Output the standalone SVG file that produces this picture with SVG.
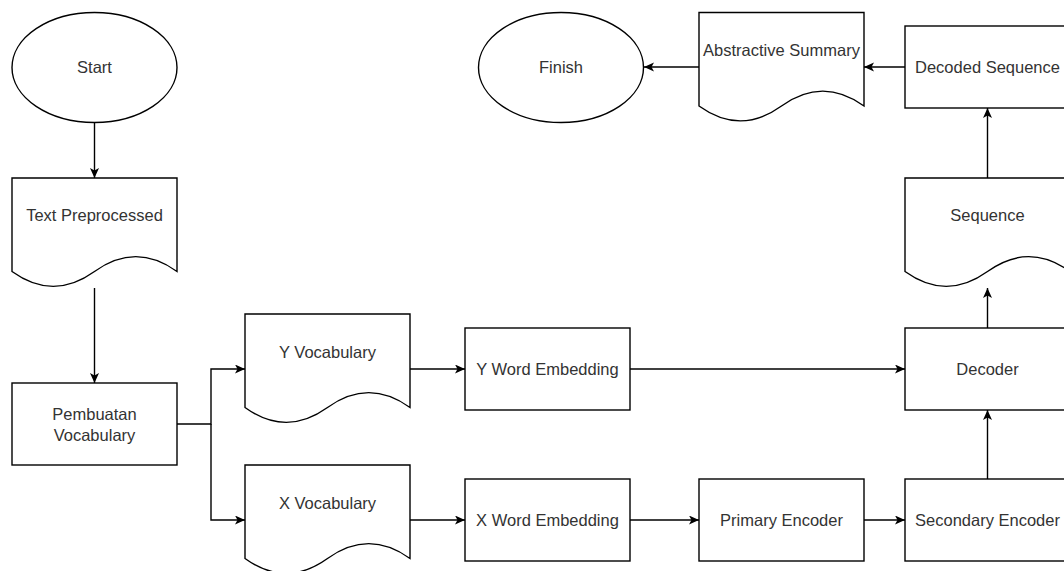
<svg xmlns="http://www.w3.org/2000/svg" width="1064" height="571" viewBox="0 0 1064 571">
<defs>
<marker id="arr" markerUnits="userSpaceOnUse" markerWidth="11" markerHeight="10" refX="10" refY="4.5" orient="auto">
<path d="M0,0 L10,4.5 L0,9 L2.5,4.5 Z" fill="#000"/>
</marker>
<style>
.shape{fill:#fff;stroke:#000;stroke-width:1.4}
.conn{fill:none;stroke:#000;stroke-width:1.4;marker-end:url(#arr)}
.lbl{font-family:"Liberation Sans",Arial,Helvetica,sans-serif;font-size:16.5px;fill:#333;text-anchor:middle}
</style>
</defs>
<rect width="1064" height="571" fill="#fff"/>
<g id="connectors">
<path class="conn" d="M94.5,122.5 V178"/>
<path class="conn" d="M94.5,288 V383"/>
<path class="conn" d="M177,424 H211 V369 H245"/>
<path class="conn" d="M211,424 V520 H245"/>
<path class="conn" d="M410,369 H465"/>
<path class="conn" d="M410,520 H465"/>
<path class="conn" d="M630,369 H905"/>
<path class="conn" d="M630,520 H699"/>
<path class="conn" d="M864,520 H905"/>
<path class="conn" d="M987.5,479 V410"/>
<path class="conn" d="M987.5,328 V288"/>
<path class="conn" d="M987.5,178 V108"/>
<path class="conn" d="M905,67 H864"/>
<path class="conn" d="M699,67 H644"/>
</g>
<g id="start">
<ellipse class="shape" cx="94.5" cy="67.5" rx="82.5" ry="55"/>
<text class="lbl" x="94.5" y="73">Start</text>
</g>
<g id="text-preprocessed">
<path class="shape" d="M12,178 H177 V271.5 Q135.75,241.8 94.5,271.5 Q53.25,301.2 12,271.5 Z"/>
<text class="lbl" x="94.5" y="221">Text Preprocessed</text>
</g>
<g id="pembuatan-vocabulary">
<rect class="shape" x="12" y="383" width="165" height="82"/>
<text class="lbl" x="94.5" y="420">Pembuatan</text>
<text class="lbl" x="94.5" y="441">Vocabulary</text>
</g>
<g id="y-vocabulary">
<path class="shape" d="M245,314 H410 V407.5 Q368.75,377.8 327.5,407.5 Q286.25,437.2 245,407.5 Z"/>
<text class="lbl" x="327.5" y="358">Y Vocabulary</text>
</g>
<g id="x-vocabulary">
<path class="shape" d="M245,465 H410 V558.5 Q368.75,528.8 327.5,558.5 Q286.25,588.2 245,558.5 Z"/>
<text class="lbl" x="327.5" y="509">X Vocabulary</text>
</g>
<g id="y-word-embedding">
<rect class="shape" x="465" y="328" width="165" height="82"/>
<text class="lbl" x="547.5" y="375">Y Word Embedding</text>
</g>
<g id="x-word-embedding">
<rect class="shape" x="465" y="479" width="165" height="82"/>
<text class="lbl" x="547.5" y="526">X Word Embedding</text>
</g>
<g id="primary-encoder">
<rect class="shape" x="699" y="479" width="165" height="82"/>
<text class="lbl" x="781.5" y="526">Primary Encoder</text>
</g>
<g id="secondary-encoder">
<rect class="shape" x="905" y="479" width="165" height="82"/>
<text class="lbl" x="987.5" y="526">Secondary Encoder</text>
</g>
<g id="decoder">
<rect class="shape" x="905" y="328" width="165" height="82"/>
<text class="lbl" x="987.5" y="375">Decoder</text>
</g>
<g id="sequence">
<path class="shape" d="M905,178 H1070 V271.5 Q1028.75,241.8 987.5,271.5 Q946.25,301.2 905,271.5 Z"/>
<text class="lbl" x="987.5" y="221">Sequence</text>
</g>
<g id="decoded-sequence">
<rect class="shape" x="905" y="26" width="165" height="82"/>
<text class="lbl" x="987.5" y="73">Decoded Sequence</text>
</g>
<g id="abstractive-summary">
<path class="shape" d="M699,12.5 H864 V106 Q822.75,76.3 781.5,106 Q740.25,135.7 699,106 Z"/>
<text class="lbl" x="781.5" y="56">Abstractive Summary</text>
</g>
<g id="finish">
<ellipse class="shape" cx="561" cy="67.5" rx="82.5" ry="55"/>
<text class="lbl" x="561" y="73">Finish</text>
</g>
</svg>
